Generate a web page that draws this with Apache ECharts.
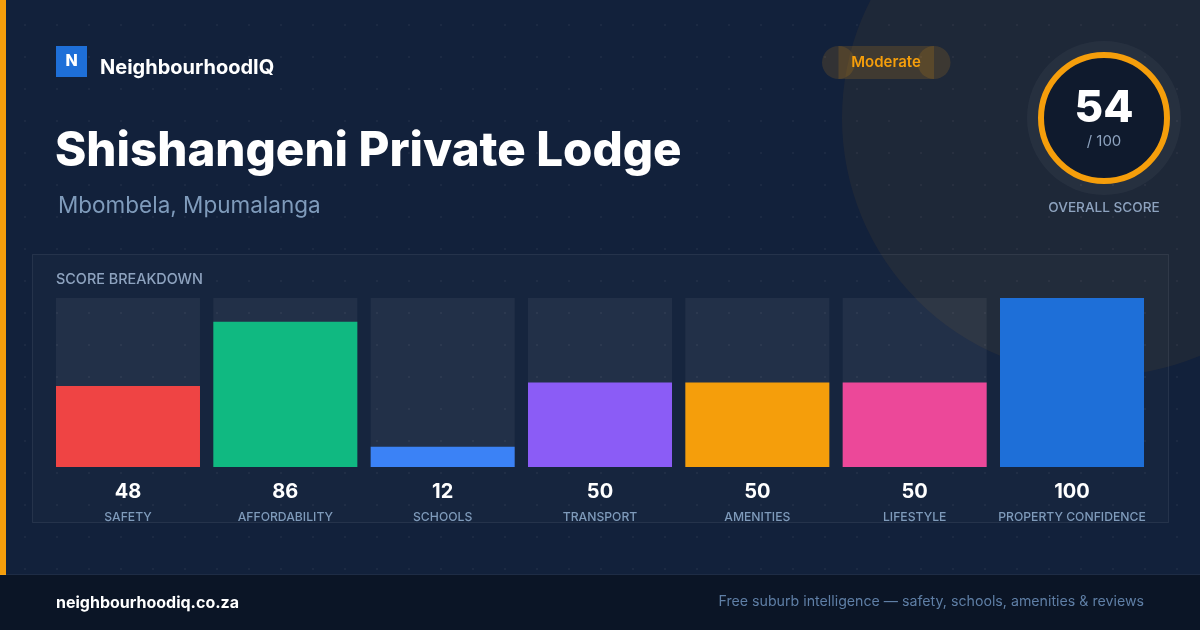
<!DOCTYPE html>
<html>
<head>
<meta charset="utf-8">
<script src="https://cdn.jsdelivr.net/npm/echarts@6/dist/echarts.min.js"></script>
<style>
html,body{margin:0;padding:0;background:#12213b;}
#chart{width:1200px;height:630px;}
</style>
</head>
<body>
<div id="chart"></div>
<script>
const categories = ['SAFETY','AFFORDABILITY','SCHOOLS','TRANSPORT','AMENITIES','LIFESTYLE','PROPERTY CONFIDENCE'];
const scores = [48, 86, 12, 50, 50, 50, 100];
const barColors = ['#ef4444','#10b981','#3b82f6','#8b5cf6','#f59e0b','#ec4899','#1e6fd8'];
const overallScore = 54;
const overallMax = 100;
const rating = 'Moderate';
const placeName = 'Shishangeni Private Lodge';
const placeRegion = 'Mbombela, Mpumalanga';

const FONT = 'Inter, "Noto Sans", sans-serif';

// dot pattern
const pc = document.createElement('canvas');
pc.width = 32; pc.height = 32;
const pctx = pc.getContext('2d');
pctx.fillStyle = 'rgba(255,255,255,0.045)';
pctx.fillRect(24, 24, 2, 2);

const chart = echarts.init(document.getElementById('chart'), null, {renderer:'canvas'});

const graphics = [
  {type:'rect', z:-20, silent:true, shape:{x:0,y:0,width:1200,height:630}, style:{fill:{image:pc, repeat:'repeat'}}},
  {type:'circle', z:-19, silent:true, shape:{cx:1100,cy:118,r:258}, style:{fill:'rgba(245,158,11,0.06)'}},
  {type:'rect', z:-18, silent:true, shape:{x:0,y:0,width:6,height:575}, style:{fill:'#f59e0b'}},
  {type:'rect', z:-18, silent:true, shape:{x:0,y:575,width:1200,height:55}, style:{fill:'#0b1526'}},
  {type:'rect', z:-17, silent:true, shape:{x:0,y:574,width:1200,height:1}, style:{fill:'rgba(255,255,255,0.05)'}},
  // panel
  {type:'rect', z:-16, silent:true, shape:{x:32.5,y:254.5,width:1136,height:268}, style:{fill:'rgba(255,255,255,0.02)', stroke:'rgba(255,255,255,0.08)', lineWidth:1}},
  {type:'text', z:5, style:{x:56, y:280, text:'SCORE BREAKDOWN', fill:'#8ea3bf', font:'500 14.4px '+FONT, textVerticalAlign:'middle'}},
  // logo
  {type:'rect', z:5, shape:{x:56,y:46,width:31,height:31}, style:{fill:'#1e6fd8'}},
  {type:'text', z:6, style:{x:71.5, y:61.5, text:'N', fill:'#ffffff', font:'800 16px '+FONT, textAlign:'center', textVerticalAlign:'middle'}},
  {type:'text', z:5, style:{x:100, y:68, text:'NeighbourhoodIQ', fill:'#ffffff', font:'700 20px '+FONT, textVerticalAlign:'middle'}},
  // title
  {type:'text', z:5, style:{x:55, y:152, text:placeName, fill:'#ffffff', font:'800 47.5px '+FONT, textVerticalAlign:'middle'}},
  {type:'text', z:5, style:{x:58, y:206, text:placeRegion, fill:'#7f9bbb', font:'400 22.5px '+FONT, textVerticalAlign:'middle'}},
  // pill
  {type:'circle', z:3, shape:{cx:838.5,cy:62.5,r:16.5}, style:{fill:'rgba(245,158,11,0.14)'}},
  {type:'circle', z:3, shape:{cx:934,cy:62.5,r:16.5}, style:{fill:'rgba(245,158,11,0.14)'}},
  {type:'rect', z:3, shape:{x:838.5,y:46,width:95.5,height:33}, style:{fill:'rgba(245,158,11,0.16)'}},
  {type:'text', z:5, style:{x:886, y:62, text:rating, fill:'#f59e0b', font:'600 15px '+FONT, textAlign:'center', textVerticalAlign:'middle'}},
  // score ring
  {type:'circle', z:3, shape:{cx:1104,cy:118,r:77}, style:{fill:'rgba(255,255,255,0.04)'}},
  {type:'circle', z:4, shape:{cx:1104,cy:118,r:63}, style:{fill:'#0f1a2d', stroke:'#f59e0b', lineWidth:6}},
  {type:'text', z:5, style:{x:1104, y:109, text:String(overallScore), fill:'#ffffff', font:'800 44px '+FONT, textAlign:'center', textVerticalAlign:'middle'}},
  {type:'text', z:5, style:{x:1104, y:141, text:'/ ' + overallMax, fill:'#8ea3bf', font:'400 15px '+FONT, textAlign:'center', textVerticalAlign:'middle'}},
  {type:'text', z:5, style:{x:1104, y:208, text:'OVERALL SCORE', fill:'#8ea3bf', font:'500 13.6px '+FONT, textAlign:'center', textVerticalAlign:'middle'}},
  // footer
  {type:'text', z:5, style:{x:56, y:603, text:'neighbourhoodiq.co.za', fill:'#ffffff', font:'700 16px '+FONT, textVerticalAlign:'middle'}},
  {type:'text', z:5, style:{x:1144, y:602, text:'Free suburb intelligence — safety, schools, amenities & reviews', fill:'#5f7fa6', font:'400 14.2px '+FONT, textAlign:'right', textVerticalAlign:'middle'}}
];

chart.setOption({
  backgroundColor:'#12213b',
  animation:false,
  graphic:{elements:graphics},
  grid:{left:49.33, right:49.33, top:298, bottom:163, containLabel:false},
  xAxis:{
    type:'category', data:categories,
    axisLine:{show:false}, axisTick:{show:false}, splitLine:{show:false},
    axisLabel:{
      interval:0, margin:12,
      formatter:function(value, idx){ return '{v|' + scores[idx] + '}\n{n|' + value + '}'; },
      rich:{
        v:{fontFamily:FONT, fontSize:20, fontWeight:700, color:'#ffffff', lineHeight:26, align:'center'},
        n:{fontFamily:FONT, fontSize:12.2, fontWeight:500, color:'#7f9bbb', lineHeight:24, align:'center'}
      }
    }
  },
  yAxis:{type:'value', min:0, max:100, show:false, splitLine:{show:false}},
  series:[{
    type:'bar',
    data:scores.map((v,i)=>({value:v, itemStyle:{color:barColors[i]}})),
    barWidth:144,
    showBackground:true,
    backgroundStyle:{color:'rgba(255,255,255,0.055)'},
    z:2
  }]
});
</script>
</body>
</html>
